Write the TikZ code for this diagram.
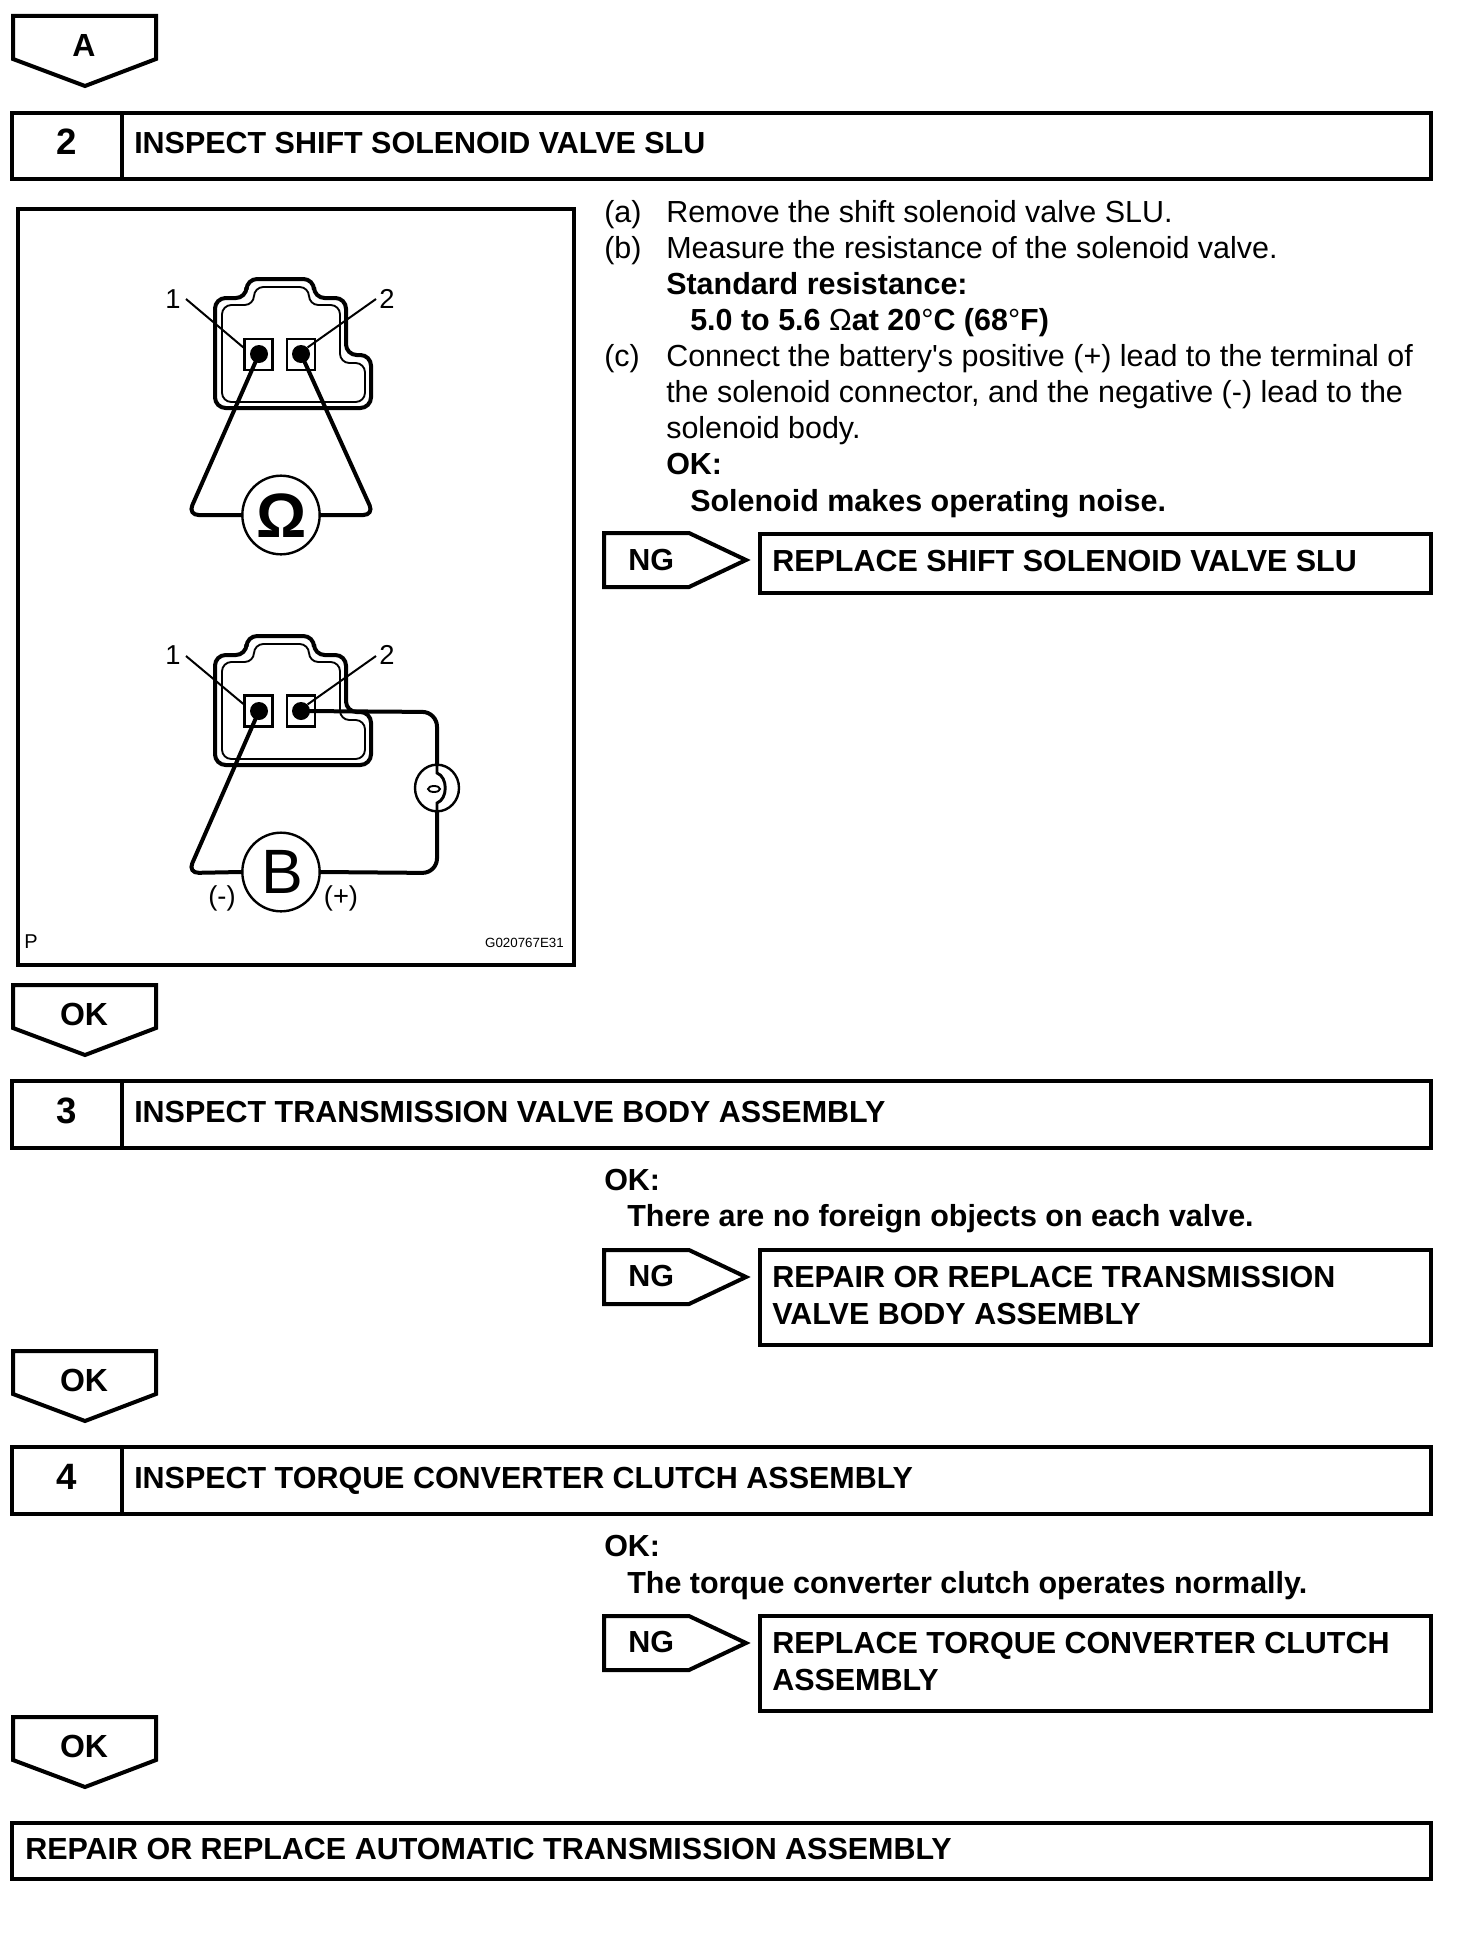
\documentclass[tikz,border=0pt]{standalone}
\usepackage{fontspec}
\setmainfont{Liberation Sans}[Ligatures=TeXOff]
\newcommand{\sizebody}{\fontsize{22.85pt}{27pt}\selectfont}
\tikzset{
  txt/.style={inner sep=0pt,anchor=base west,font=\sizebody},
  btxt/.style={txt,font=\sizebody\bfseries},
  flagtxt/.style={inner sep=0pt,font=\fontsize{24pt}{28pt}\selectfont\bfseries},
  numtxt/.style={inner sep=0pt,font=\fontsize{27.5pt}{30pt}\selectfont\bfseries},
  boxline/.style={draw=black,line width=3pt,fill=white},
  flagline/.style={draw=black,line width=3pt,line join=miter,fill=white},
  frameline/.style={draw=black,line width=2.3pt},
  wire/.style={draw=black,line width=3pt,line cap=round},
  leader/.style={draw=black,line width=1.5pt},
  meter/.style={draw=black,line width=1.8pt,ellipse,fill=white,inner sep=0pt},
  term/.style={draw=black,line width=1.8pt,rectangle,inner sep=0pt,minimum width=21pt,minimum height=23pt},
  dotn/.style={circle,fill=black,inner sep=0pt,minimum size=13.5pt},
  lab/.style={inner sep=0pt,font=\fontsize{20.5pt}{24pt}\selectfont}
}
\usetikzlibrary{shapes.geometric}
\newcommand{\downflag}[1]{% top y
  \draw[flagline] (13,#1) -- (156,#1) -- (156,#1+43) -- (85,#1+70) -- (13,#1+43) -- cycle;
}
\newcommand{\ngflag}[1]{% top y
  \draw[flagline] (604,#1) -- (689,#1) -- (746,#1+27) -- (689,#1+54) -- (604,#1+54) -- cycle;
}
\newcommand{\plug}[1]{%
  \begin{scope}[shift={(0,#1)}]
  \draw[draw=black,line width=3pt,rounded corners=8] (246.5,298) -- (246.5,279) -- (314,279) -- (314,298) -- (346,298) -- (346,355) -- (371,355) -- (371,408) -- (215,408) -- (215,298) -- cycle;
  \draw[draw=black,line width=1.4pt,rounded corners=7] (254,305) -- (254,287) -- (309,287) -- (309,305) -- (340,305) -- (340,363) -- (365,363) -- (365,402) -- (222,402) -- (222,305) -- cycle;
  \end{scope}
}
\begin{document}
\begin{tikzpicture}[x=0.75pt,y=-0.75pt]
\useasboundingbox (0,0) rectangle (1456,1952);

% flags
\downflag{16}
\node[flagtxt] (flagA) at (84,45) {A};
\downflag{985}
\node[flagtxt] (flagOK1) at (84,1014) {OK};
\downflag{1351}
\node[flagtxt] (flagOK2) at (84,1380) {OK};
\downflag{1717}
\node[flagtxt] (flagOK3) at (84,1746) {OK};

% step boxes
\draw[boxline] (12,113) rectangle (1431,179);
\draw[boxline] (122,113) -- (122,179);
\node[numtxt] (n2) at (67,142) {2};
\node[btxt] (t2) at (134,153) {INSPECT SHIFT SOLENOID VALVE SLU};

\draw[boxline] (12,1081) rectangle (1431,1148);
\draw[boxline] (122,1081) -- (122,1148);
\node[numtxt] (n3) at (67,1111) {3};
\node[btxt] (t3) at (134,1122) {INSPECT TRANSMISSION VALVE BODY ASSEMBLY};

\draw[boxline] (12,1447) rectangle (1431,1514);
\draw[boxline] (122,1447) -- (122,1514);
\node[numtxt] (n4) at (67,1477) {4};
\node[btxt] (t4) at (134,1488) {INSPECT TORQUE CONVERTER CLUTCH ASSEMBLY};

\draw[boxline] (12,1823) rectangle (1431,1879);
\node[btxt] (t5) at (25,1859) {REPAIR OR REPLACE AUTOMATIC TRANSMISSION ASSEMBLY};

% instruction text, step 2
\node[txt] (la) at (604,222) {(a)};
\node[txt] (ta) at (666,222) {Remove the shift solenoid valve SLU.};
\node[txt] (lb) at (604,258) {(b)};
\node[txt] (tb) at (666,258) {Measure the resistance of the solenoid valve.};
\node[btxt] (sr) at (666,294) {Standard resistance:};
\node[btxt] (sv) at (690,330) {5.0 to 5.6 {\mdseries Ω}at 20{\mdseries °}C (68{\mdseries °}F)};
\node[txt] (lc) at (604,366) {(c)};
\node[txt] (tc1) at (666,366) {Connect the battery's positive (+) lead to the terminal of};
\node[txt] (tc2) at (666,402) {the solenoid connector, and the negative (-) lead to the};
\node[txt] (tc3) at (666,438) {solenoid body.};
\node[btxt] (ok2) at (666,474) {OK:};
\node[btxt] (ok2b) at (690,511) {Solenoid makes operating noise.};

% NG step 2
\ngflag{533}
\node[btxt] (ng2) at (628,570) {NG};
\draw[boxline] (760,534) rectangle (1431,593);
\node[btxt] (r2) at (772,571) {REPLACE SHIFT SOLENOID VALVE SLU};

% step 3
\node[btxt] (ok3) at (604,1190) {OK:};
\node[btxt] (ok3b) at (627,1226) {There are no foreign objects on each valve.};
\ngflag{1250}
\node[btxt] (ng3) at (628,1286) {NG};
\draw[boxline] (760,1250) rectangle (1431,1345);
\node[btxt] (r3a) at (772,1287) {REPAIR OR REPLACE TRANSMISSION};
\node[btxt] (r3b) at (772,1324) {VALVE BODY ASSEMBLY};

% step 4
\node[btxt] (ok4) at (604,1556) {OK:};
\node[btxt] (ok4b) at (627,1593) {The torque converter clutch operates normally.};
\ngflag{1616}
\node[btxt] (ng4) at (628,1652) {NG};
\draw[boxline] (760,1616) rectangle (1431,1711);
\node[btxt] (r4a) at (772,1653) {REPLACE TORQUE CONVERTER CLUTCH};
\node[btxt] (r4b) at (772,1690) {ASSEMBLY};

% figure frame
\draw[frameline] (18,209) rectangle (574,965);

% upper plug
\plug{0}
\node[term] (u1) at (258.5,354.5) {};
\node[term] (u2) at (301,354.5) {};
\node[dotn] (ud1) at (259,354) {};
\node[dotn] (ud2) at (301,354) {};
\node[meter,minimum width=58pt,minimum height=59pt] (ohm) at (281,515) {};
\node[inner sep=0pt,font=\fontsize{47pt}{50pt}\selectfont\bfseries] (ohmt) at (282,516) {Ω};
\draw[wire,rounded corners=8] (ud1.center) -- (188,515) -- (ohm.west);
\draw[wire,rounded corners=8] (ud2.center) -- (374,515) -- (ohm.east);
\node[lab] (u1l) at (173,299) {1};
\node[lab] (u2l) at (387,299) {2};
\coordinate (u1e) at (186,299);
\coordinate (u2e) at (376,299);
\draw[leader] (u1e) -- (u1.155);
\draw[leader] (u2e) -- (ud2.45);

% lower plug
\plug{357}
\node[term] (l1) at (258.5,711) {};
\node[term] (l2) at (301,711) {};
\node[dotn] (ld1) at (259,711) {};
\node[dotn] (ld2) at (301,711) {};
\node[meter,minimum width=58pt,minimum height=59pt] (bat) at (281,872) {};
\node[inner sep=0pt,font=\fontsize{47pt}{50pt}\selectfont] (batt) at (282,872) {B};
\node[meter,minimum width=33pt,minimum height=35pt] (lamp) at (437,788) {};
\draw[wire,rounded corners=8] (ld1.center) -- (188,873) -- (bat.west);
\draw[wire,rounded corners=11] (ld2.center) -- (437,712) -- (lamp.north);
\draw[wire,rounded corners=11] (lamp.south) -- (437,873) -- (bat.east);
\draw[wire,line width=2.2pt] (lamp.north) -- (437,773) .. controls (448,777) and (448,799) .. (437,803) -- (lamp.south);
\draw[line width=1.4pt] (434,789) ellipse (6 and 3);
\node[lab] (l1l) at (173,655) {1};
\node[lab] (l2l) at (387,655) {2};
\coordinate (l1e) at (186,656);
\coordinate (l2e) at (376,656);
\draw[leader] (l1e) -- (l1.155);
\draw[leader] (l2e) -- (ld2.45);
\node[lab] (neg) at (222,898) {(-)};
\node[lab] (pos) at (341,898) {(+)};
\node[inner sep=0pt,font=\fontsize{15pt}{18pt}\selectfont] (pmark) at (31,942) {P};
\node[inner sep=0pt,anchor=east,font=\fontsize{10pt}{12pt}\selectfont] (code) at (564,943) {G020767E31};
\end{tikzpicture}
\end{document}
